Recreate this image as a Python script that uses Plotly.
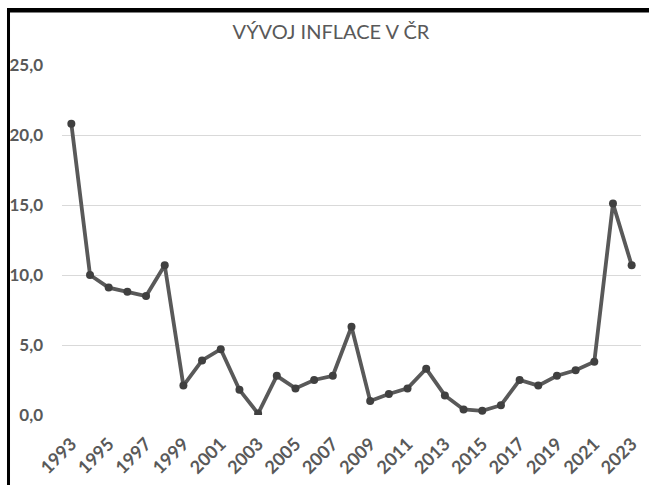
import plotly.graph_objects as go

years = [str(y) for y in range(1993, 2024)]
inflation = [20.8, 10.0, 9.1, 8.8, 8.5, 10.7, 2.1, 3.9, 4.7, 1.8, 0.1,
             2.8, 1.9, 2.5, 2.8, 6.3, 1.0, 1.5, 1.9, 3.3, 1.4, 0.4,
             0.3, 0.7, 2.5, 2.1, 2.8, 3.2, 3.8, 15.1, 10.7]
tick_years = years[::2]
y_ticks = [0, 5, 10, 15, 20, 25]
title_text = "VÝVOJ INFLACE V ČR"

fig = go.Figure()
fig.add_trace(go.Scatter(
    x=years, y=inflation, mode="lines+markers",
    line=dict(color="#595959", width=3.8),
    marker=dict(color="#404040", size=8),
    showlegend=False,
))

font_fam = "Lato, 'Open Sans', sans-serif"
fig.update_layout(
    width=649, height=485, autosize=False,
    margin=dict(l=62, r=8, t=65, b=70, autoexpand=False),
    paper_bgcolor="white", plot_bgcolor="white",
    separators=", ",
    title=dict(text=title_text, x=0.51, xanchor="center", y=0.934, yanchor="middle",
               yref="container", automargin=False,
               font=dict(family=font_fam, size=20, color="#595959")),
    xaxis=dict(
        type="category", range=[-0.5, len(years) - 0.5], automargin=False,
        tickmode="array", tickvals=tick_years, ticktext=tick_years,
        tickangle=-45, showgrid=False, showline=False, zeroline=False,
        ticks="", ticklabelstandoff=14,
        tickfont=dict(family=font_fam, size=18, color="#595959", weight="bold"),
    ),
    yaxis=dict(
        range=[0, 25], tickmode="array", tickvals=y_ticks, tickformat=".1f",
        automargin=False,
        showgrid=True, gridcolor="#d9d9d9", gridwidth=1,
        showline=False, zeroline=False, ticks="", ticklabelstandoff=18,
        tickfont=dict(family=font_fam, size=17, color="#595959", weight="bold"),
    ),
    shapes=[
        dict(type="rect", xref="paper", yref="paper", layer="above",
             x0=-0.095, x1=1.0138, y0=1.150, y1=1.159,
             fillcolor="black", line=dict(width=0)),
        dict(type="rect", xref="paper", yref="paper", layer="above",
             x0=-0.095, x1=-0.0898, y0=1.159, y1=-0.2,
             fillcolor="black", line=dict(width=0)),
    ],
)

post = (
    "document.body.style.margin='0px';"
    "document.body.style.padding='0px';"
    "var b=document.createElement('div');"
    "b.style.position='fixed';b.style.left='7px';b.style.top='8px';"
    "b.style.width='642px';b.style.height='477px';"
    "b.style.borderTop='3px solid black';b.style.borderLeft='3px solid black';"
    "b.style.pointerEvents='none';b.style.zIndex='1000';"
    "document.body.appendChild(b);"
)

fig.write_html("out.html", config={"displayModeBar": False}, post_script=post)
